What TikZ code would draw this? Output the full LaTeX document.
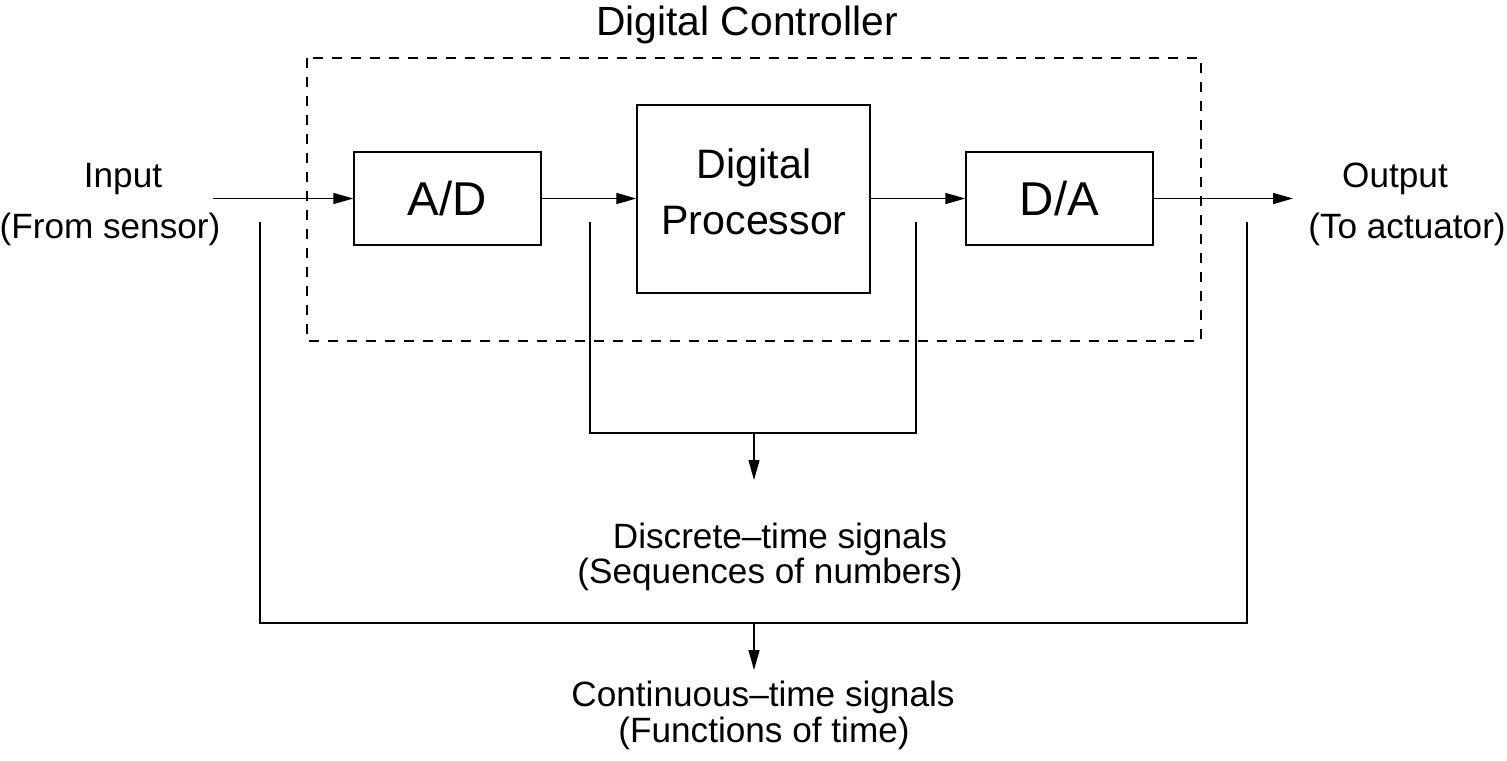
\documentclass[tikz,border=0pt]{standalone}
\usepackage{fontspec}
\setmainfont{Liberation Sans}
\usetikzlibrary{arrows.meta}
\tikzset{
  x=0.01cm, y=-0.01cm,
  line/.style={line width=0.35pt, draw=black},
  arr/.style={line, -{Triangle[length=0.2cm, width=0.11cm]}},
  blk/.style={line, rectangle, inner sep=0pt},
  blktext/.style={inner sep=0pt, anchor=base, font=\fontsize{11.7pt}{14pt}\selectfont},
  convtext/.style={inner sep=0pt, anchor=base, font=\fontsize{13.5pt}{16pt}\selectfont},
  lbl/.style={inner sep=0pt, anchor=base, font=\fontsize{10pt}{12pt}\selectfont},
  dashbox/.style={line, dash pattern=on 0.1cm off 0.09cm},
}
\begin{document}
\begin{tikzpicture}
\useasboundingbox (0,0) rectangle (1507,760);
% controller frame
\draw[dashbox] (307,58) rectangle (1201,341);
\node[lbl, font=\fontsize{11.6pt}{14pt}\selectfont] (title) at (747,35) {Digital Controller};
% blocks
\node[blk, minimum width=1.87cm, minimum height=0.93cm] (ad) at (447.5,198.5) {};
\node[blk, minimum width=2.33cm, minimum height=1.88cm] (dp) at (753.5,199) {};
\node[blk, minimum width=1.87cm, minimum height=0.93cm] (da) at (1059.5,198.5) {};
\node[convtext] (adt) at (447.5,215) {A/D};
\node[blktext] (dpt1) at (754,178) {Digital};
\node[blktext] (dpt2) at (754,234) {Processor};
\node[convtext] (dat) at (1059.5,215) {D/A};
% input / output
\coordinate (in) at (213,198.5);
\coordinate (out) at (1293,198.5);
\node[lbl] (inlbl) at (123,187) {Input};
\node[lbl] (insub) at (110,238) {(From sensor)};
\node[lbl] (outlbl) at (1395,187) {Output};
\node[lbl] (outsub) at (1407,238) {(To actuator)};
\draw[arr] (in) -- (ad.west);
\draw[arr] (ad.east) -- (ad.east -| dp.west);
\draw[arr] (ad.east -| dp.east) -- (da.west);
\draw[arr] (da.east) -- (out);
% discrete-time bracket
\coordinate (d1) at (590,222);
\coordinate (d2) at (916,222);
\coordinate (dm) at (754,433);
\coordinate (dt) at (754,480);
\draw[line] (d1) |- (dm) -| (d2);
\draw[arr] (dm) -- (dt);
\node[lbl] (dlbl) at (780,548) {Discrete–time signals};
\node[lbl] (dsub) at (770,583) {(Sequences of numbers)};
% continuous-time bracket
\coordinate (c1) at (260,222);
\coordinate (c2) at (1247,222);
\coordinate (cm) at (754,623);
\coordinate (ct) at (754,670);
\draw[line] (c1) |- (cm) -| (c2);
\draw[arr] (cm) -- (ct);
\node[lbl] (clbl) at (763,706) {Continuous–time signals};
\node[lbl] (csub) at (764,742) {(Functions of time)};
\end{tikzpicture}
\end{document}
